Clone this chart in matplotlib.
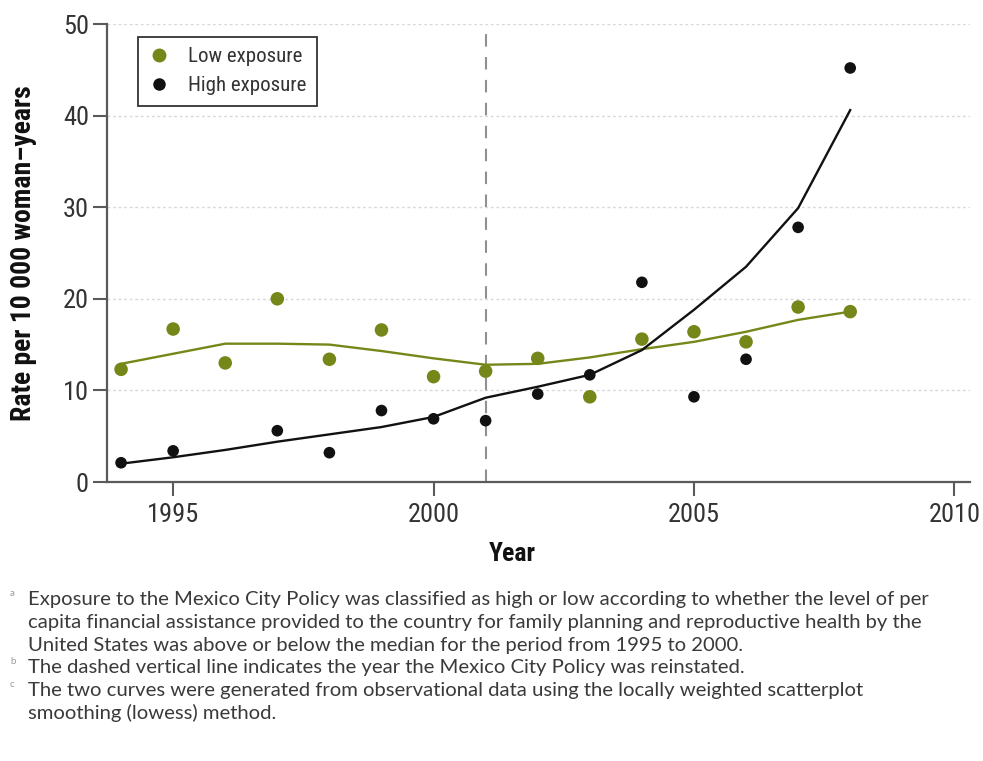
import matplotlib
matplotlib.use("Agg")
import matplotlib.pyplot as plt
from matplotlib.lines import Line2D

# ---- data ----
years_low = [1994, 1995, 1996, 1997, 1998, 1999, 2000, 2001, 2002, 2003, 2004, 2005, 2006, 2007, 2008]
rate_low = [12.3, 16.7, 13.0, 20.0, 13.4, 16.6, 11.5, 12.1, 13.5, 9.3, 15.6, 16.4, 15.3, 19.1, 18.6]

years_high = [1994, 1995, 1997, 1998, 1999, 2000, 2001, 2002, 2003, 2004, 2005, 2006, 2007, 2008]
rate_high = [2.1, 3.4, 5.6, 3.2, 7.8, 6.9, 6.7, 9.6, 11.7, 21.8, 9.3, 13.4, 27.8, 45.2]

curve_years = [1994, 1995, 1996, 1997, 1998, 1999, 2000, 2001, 2002, 2003, 2004, 2005, 2006, 2007, 2008]
curve_low = [12.9, 14.0, 15.1, 15.1, 15.0, 14.3, 13.5, 12.8, 12.9, 13.6, 14.5, 15.3, 16.4, 17.7, 18.6]
curve_high = [2.0, 2.7, 3.5, 4.4, 5.2, 6.0, 7.1, 9.2, 10.4, 11.7, 14.4, 18.8, 23.5, 29.9, 40.6]

policy_year = 2001
x_ticks = [1995, 2000, 2005, 2010]
y_ticks = [0, 10, 20, 30, 40, 50]
legend_labels = ["Low exposure", "High exposure"]

footnotes = [
    ("a", ["Exposure to the Mexico City Policy was classified as high or low according to whether the level of per",
           "capita financial assistance provided to the country for family planning and reproductive health by the",
           "United States was above or below the median for the period from 1995 to 2000."]),
    ("b", ["The dashed vertical line indicates the year the Mexico City Policy was reinstated."]),
    ("c", ["The two curves were generated from observational data using the locally weighted scatterplot",
           "smoothing (lowess) method."]),
]

GREEN = "#76871a"
BLACK = "#111111"
NARROW = ["Roboto Condensed", "Liberation Sans Narrow", "Liberation Sans", "DejaVu Sans"]
NOTE_FONT = ["Lato", "DejaVu Sans"]

fig = plt.figure(figsize=(9.83, 7.61), dpi=100)
ax = fig.add_axes([107 / 983, 1 - 482 / 761, (970 - 107) / 983, (482 - 24) / 761])

ax.set_xlim(1993.73, 2010.3)
ax.set_ylim(0, 50)

for y in y_ticks[1:]:
    ax.axhline(y, color="#d8d8d8", lw=1.0, ls=(0, (2, 2)), zorder=0)

ax.axvline(policy_year, color="#909090", lw=1.5, ls=(0, (6, 5)), zorder=1)

ax.plot(curve_years, curve_low, color=GREEN, lw=1.7, zorder=3)
ax.plot(curve_years, curve_high, color=BLACK, lw=1.7, zorder=3)
ax.scatter(years_low, rate_low, s=95, color=GREEN, edgecolors="none", zorder=4)
ax.scatter(years_high, rate_high, s=70, color=BLACK, edgecolors="none", zorder=5)

for side in ("top", "right"):
    ax.spines[side].set_visible(False)
for side in ("left", "bottom"):
    ax.spines[side].set_color("#5a5a5a")
    ax.spines[side].set_linewidth(1.6)

ax.set_xticks(x_ticks)
ax.set_yticks(y_ticks)
ax.tick_params(axis="both", direction="out", length=10, width=1.5, color="#5a5a5a",
               labelcolor="#333333", labelsize=19)
ax.tick_params(axis="x", pad=5)
ax.tick_params(axis="y", pad=3)
for lab in ax.get_xticklabels() + ax.get_yticklabels():
    lab.set_family(NARROW)

ax.set_ylabel("Rate per 10 000 woman\u2013years", fontsize=20, fontweight="bold",
              family=NARROW, color="#111111")
ax.yaxis.set_label_coords((24 - 107) / 863, 0.5)
ax.yaxis.label.set_va("center")
ax.set_xlabel("Year", fontsize=18.5, fontweight="bold", family=NARROW, color="#111111")
ax.xaxis.set_label_coords((512 - 107) / 863, (482 - 554) / 458)
ax.xaxis.label.set_va("center")

handles = [Line2D([], [], ls="none", marker="o", markersize=9, color=GREEN),
           Line2D([], [], ls="none", marker="o", markersize=8, color=BLACK)]
leg = ax.legend(handles, legend_labels, loc="upper left", bbox_to_anchor=(0.036, 0.9716),
                borderaxespad=0, frameon=True, fancybox=False, edgecolor="#333333", framealpha=1,
                prop={"family": NARROW, "size": 15}, handletextpad=0.9, borderpad=0.5,
                labelspacing=0.48, handlelength=1.0)
leg.get_frame().set_linewidth(1.3)
for t in leg.get_texts():
    t.set_color("#333333")

# footnotes
y0 = 600
line_h = 22.6
row = 0
for mark, lines in footnotes:
    fig.text(10 / 983, 1 - (y0 + row * line_h - 6) / 761, mark, fontsize=7, color="#999999",
             family=NOTE_FONT, va="center", ha="left")
    for ln in lines:
        fig.text(28 / 983, 1 - (y0 + row * line_h) / 761, ln, fontsize=14.6, color="#3a3a3a",
                 family=NOTE_FONT, va="center", ha="left")
        row += 1

fig.savefig("out.png", dpi=100)
